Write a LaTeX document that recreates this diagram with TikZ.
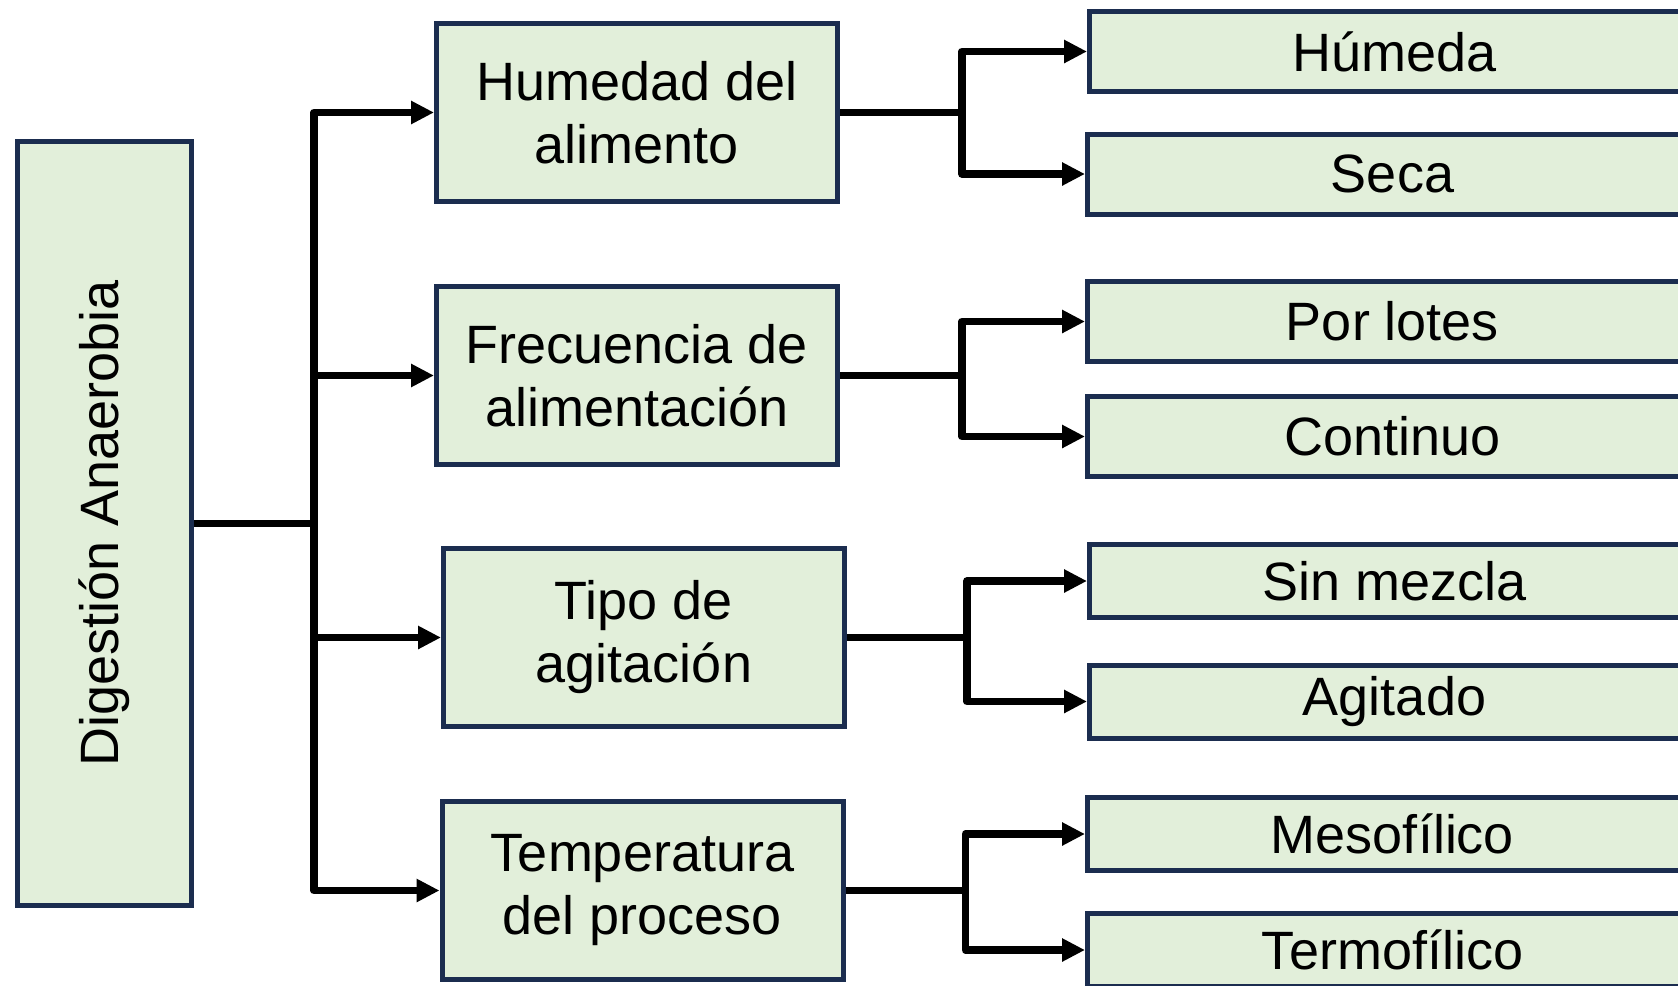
\documentclass[tikz,border=0pt]{standalone}
\usepackage{fontspec}
\setmainfont{Liberation Sans}
\usetikzlibrary{arrows.meta}
\definecolor{boxfill}{HTML}{E2EFDA}
\definecolor{boxline}{HTML}{1B2D4F}

\begin{document}
\begin{tikzpicture}[x=0.5pt,y=-0.5pt,
	box/.style={draw=boxline,fill=boxfill,line width=2.5pt,align=center,inner sep=0pt,font=\fontsize{27}{31.5}\selectfont},
	mid/.style={box,minimum width=200.5pt,minimum height=89pt},
	leaf/.style={box,anchor=west,minimum width=305pt,minimum height=40pt},
	shortleaf/.style={leaf,minimum height=36.5pt},
	conn/.style={line width=3.8pt,line join=round},
	arr/.style={conn,-{Triangle[length=11.5pt,width=11pt]}}]
	\useasboundingbox (0,0) rectangle (1678,986);
	\clip (0,0) rectangle (1678,986);
	\node[box,minimum width=87pt,minimum height=382pt] (main) at (104.5,523.5) {\rotatebox{90}{Digestión Anaerobia}};
	\node[mid] (hum) at (637,112.5) {Humedad del\\alimento};
	\node[mid] (frec) at (637,375.5) {Frecuencia de\\alimentación};
	\node[mid] (agit) at (644,637.5) {Tipo de\\agitación};
	\node[mid] (temp) at (642.5,890.5) {Temperatura\\del proceso};
	\node[leaf] (humeda) at (1087,51.5) {Húmeda};
	\node[leaf] (seca) at (1085,174) {Seca};
	\node[leaf] (lotes) at (1085,321.5) {Por lotes};
	\node[leaf] (cont) at (1085,436.5) {Continuo};
	\node[shortleaf] (sinmez) at (1087,581) {Sin mezcla};
	\node[shortleaf] (agitado) at (1087,701.5) {Agitado};
	\node[shortleaf] (meso) at (1085,834) {Mesofílico};
	\node[shortleaf] (termo) at (1085,950) {Termofílico};
	% trunk
	\coordinate (t) at (314,523.5);
	\draw[conn] (main.east) -- (t);
	\foreach \b in {hum,frec,agit,temp}
		\draw[arr] (t) |- (\b.west);
	% forks
	\draw[conn] (hum.east) -- ++(122,0) coordinate (f1);
	\draw[arr] (f1) |- (humeda.west);
	\draw[arr] (f1) |- (seca.west);
	\draw[conn] (frec.east) -- ++(122,0) coordinate (f2);
	\draw[arr] (f2) |- (lotes.west);
	\draw[arr] (f2) |- (cont.west);
	\draw[conn] (agit.east) -- ++(120,0) coordinate (f3);
	\draw[arr] (f3) |- (sinmez.west);
	\draw[arr] (f3) |- (agitado.west);
	\draw[conn] (temp.east) -- ++(120,0) coordinate (f4);
	\draw[arr] (f4) |- (meso.west);
	\draw[arr] (f4) |- (termo.west);
\end{tikzpicture}
\end{document}
